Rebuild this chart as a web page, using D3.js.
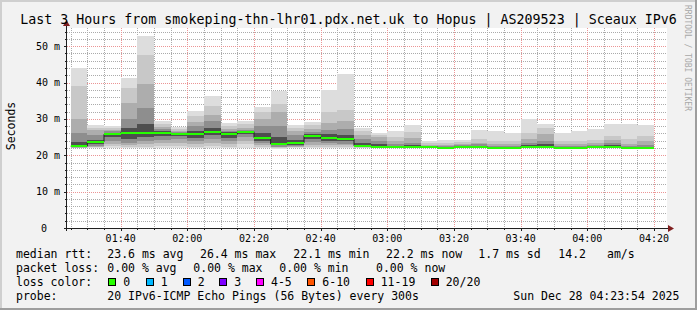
<!DOCTYPE html>
<html><head><meta charset="utf-8">
<script src="https://cdn.jsdelivr.net/npm/d3@7"></script>
<style>
html,body{margin:0;padding:0;background:#f2f2f2;overflow:hidden}
svg{display:block}
text{font-family:"DejaVu Sans Mono",monospace;white-space:pre}
</style></head>
<body><svg id="c" width="697" height="310"></svg>
<script>
// ---- data (values in milliseconds) ----
const barEnd = ["01:30","01:35","01:40","01:45","01:50","01:55","02:00","02:05","02:10","02:15","02:20","02:25",
  "02:30","02:35","02:40","02:45","02:50","02:55","03:00","03:05","03:10","03:15","03:20","03:25","03:30","03:35",
  "03:40","03:45","03:50","03:55","04:00","04:05","04:10","04:15","04:20"];
const hi1 = [43.9,28.3,28.1,41.3,52.8,29.5,27.8,32.2,36.2,28.9,29.4,33.3,37.7,28.4,29.2,37.9,42.3,27.5,26.2,26.6,28.4,24.0,24.2,24.2,26.9,26.6,26.2,29.9,28.5,26.1,26.7,27.2,28.5,28.5,28.3];
const hi2 = [39.0,27.6,27.5,38.4,47.5,28.6,27.2,30.8,33.5,28.0,28.5,31.9,34.0,27.5,28.2,32.0,32.4,26.6,25.6,25.0,26.5,23.4,23.5,23.6,24.5,24.0,24.0,26.0,27.5,24.0,24.0,24.3,25.3,24.5,25.2];
const hi3 = [30.1,27.0,27.0,34.4,39.7,27.8,26.8,29.2,31.0,27.3,27.6,30.1,32.0,26.7,27.2,29.0,29.5,25.6,25.0,23.8,24.8,22.9,22.9,23.0,23.5,23.0,23.0,24.5,25.8,23.0,23.0,23.3,24.3,23.0,23.8];
const hi4 = [26.0,25.5,26.6,30.1,33.0,27.2,26.4,28.0,29.5,26.8,27.0,28.0,28.0,25.5,26.5,27.0,27.2,24.5,24.0,23.0,23.5,22.6,22.5,22.7,23.0,22.6,22.6,23.3,24.0,22.6,22.6,22.8,23.3,22.5,22.9];
const hi5 = [23.7,24.3,26.2,27.5,28.5,26.7,26.1,26.7,27.5,26.3,26.8,26.0,25.0,24.3,25.9,25.8,25.5,23.5,23.0,22.6,22.8,22.4,22.2,22.5,22.6,22.3,22.3,22.8,23.0,22.3,22.3,22.5,22.7,22.2,22.4];
const median = [22.5,23.7,25.8,26.2,26.2,26.2,25.8,25.8,26.5,25.8,26.5,24.8,23.1,23.4,25.4,24.8,24.5,22.6,22.3,22.3,22.3,22.3,22.0,22.3,22.3,22.0,22.0,22.3,22.3,22.0,22.0,22.3,22.3,22.0,22.0];
const lo5 = [22.3,23.0,25.0,24.5,25.0,25.3,25.2,24.8,25.5,24.8,25.8,24.0,22.7,22.9,24.5,24.0,23.8,22.4,22.2,22.2,22.2,22.2,21.9,22.2,22.2,21.9,21.9,22.2,22.2,21.9,21.9,22.2,22.2,21.9,21.9];
const lo4 = [22.2,22.6,24.0,23.5,24.0,24.3,24.4,23.8,24.5,23.8,25.0,23.3,22.4,22.6,23.6,23.3,23.2,22.3,22.1,22.1,22.1,22.1,21.9,22.1,22.1,21.9,21.9,22.1,22.1,21.9,21.9,22.1,22.1,21.9,21.9];
const lo3 = [22.1,22.4,23.2,22.8,23.0,23.3,23.5,23.0,23.5,23.0,24.0,22.8,22.2,22.4,22.9,22.7,22.7,22.2,22.1,22.0,22.0,22.1,21.8,22.0,22.0,21.8,21.8,22.0,22.0,21.8,21.8,22.0,22.0,21.8,21.8];
const lo2 = [22.0,22.2,22.5,22.3,22.4,22.5,22.6,22.4,22.6,22.4,23.0,22.3,22.0,22.2,22.4,22.3,22.3,22.1,22.0,22.0,22.0,22.0,21.8,22.0,22.0,21.8,21.8,22.0,22.0,21.8,21.8,22.0,22.0,21.8,21.8];
const lo1 = [21.9,22.0,21.9,21.9,22.0,22.0,22.0,22.0,22.0,22.0,22.1,21.9,21.8,22.0,22.0,21.9,21.9,22.0,21.9,21.9,21.9,21.9,21.7,21.9,21.9,21.7,21.7,21.9,21.9,21.7,21.7,21.9,21.9,21.7,21.7];
const yTicksMajor = [0,10,20,30,40,50];
const yTicksMinor = [2,4,6,8,12,14,16,18,22,24,26,28,32,34,36,38,42,44,46,48,52,54];
const timeStart = "2025-12-28 01:23:54", timeEnd = "2025-12-28 04:23:54";
const titleText = "Last 3 Hours from smokeping-thn-lhr01.pdx.net.uk to Hopus | AS209523 | Sceaux IPv6";
const legendRows = [
  [["median rtt:",16],["23.6 ms avg",107.3],["26.4 ms max",200],["22.1 ms min",293.3],["22.2 ms now",386],["1.7 ms sd",478.3],["14.2",558.3],["am/s",607]],
  [["packet loss:",16],["0.00 % avg",107.3],["0.00 % max",193.3],["0.00 % min",279.3],["0.00 % now",376]],
  [["loss color:",16]],
  [["probe:",16],["20 IPv6-ICMP Echo Pings (56 Bytes) every 300s",107.3],["Sun Dec 28 04:23:54 2025",513.3]]
];
const lossLabels = ["0","1","2","3","4-5","6-10","11-19","20/20"];
const lossColors = ["#26ff00","#00b8ff","#0059ff","#7e00ff","#ff00ff","#ff5500","#ff0000","#a10000"];
const lossBoxX = [108.3,145.7,182.7,219.3,256,307.3,365.7,430.7];

// ---- drawing ----
const W=697,H=310, L=67, R=667, T=28, B=228;
const svg = d3.select("#c");
const pt = d3.timeParse("%Y-%m-%d %H:%M:%S");
const pe = d3.timeParse("%Y-%m-%d %H:%M");
const t0 = pt(timeStart), t1 = pt(timeEnd);
const x = d3.scaleTime().domain([t0,t1]).range([L,R]);
const y = d3.scaleLinear().domain([0,55]).range([B,T]);

svg.append("rect").attr("width",W).attr("height",H).attr("fill","#f2f2f2");
svg.append("path").attr("d",`M0,1H${W}M1,0V${H}`).attr("stroke","#cfcfcf").attr("stroke-width",2);
svg.append("path").attr("d",`M0,${H-1}H${W}M${W-1},0V${H}`).attr("stroke","#9e9e9e").attr("stroke-width",2);
svg.append("rect").attr("x",L).attr("y",T).attr("width",R-L).attr("height",B-T).attr("fill","#fff");

// grid: dotted lines drawn as rows of 1px dots
const gridG = svg.append("g").attr("shape-rendering","crispEdges");
const minorT = d3.timeMinute.every(5).range(t0, t1);
const majorT = d3.timeMinute.every(20).range(t0, t1);
const isMajorT = t => t.getMinutes()%20===0;
const minorOnly = minorT.filter(t=>!isMajorT(t));
const dotsY = d3.range(T, B, 2), dotsX = d3.range(L, R, 2);
function vDots(xx,col){ gridG.append("g").selectAll("rect").data(dotsY).enter().append("rect")
  .attr("x",xx).attr("y",d=>d).attr("width",1).attr("height",1).attr("fill",col); }
function hDots(yy,col){ gridG.append("g").selectAll("rect").data(dotsX).enter().append("rect")
  .attr("x",d=>d).attr("y",yy).attr("width",1).attr("height",1).attr("fill",col); }
minorOnly.forEach(t=> vDots(Math.round(x(t)),"#ababab"));
yTicksMinor.forEach(v=> hDots(Math.round(y(v)),"#ababab"));
majorT.forEach(t=> vDots(Math.round(x(t)),"#eb9595"));
yTicksMajor.filter(v=>v>0).forEach(v=> hDots(Math.round(y(v)),"#eb9595"));

// smoke
const bands = [[hi1,lo1,"#dddddd"],[hi2,lo2,"#c8c8c8"],[hi3,lo3,"#adadad"],[hi4,lo4,"#8e8e8e"],[hi5,lo5,"#4e4e4e"]];
const ends = barEnd.map(s=>pe("2025-12-28 "+s));
const bx0 = i => Math.max(L, x(d3.timeMinute.offset(ends[i],-5)));
const bx1 = i => x(ends[i]);
const sg = svg.append("g").attr("shape-rendering","crispEdges");
bands.forEach(([hi,lo,col])=>{
  sg.selectAll(null).data(ends).enter().append("rect")
    .attr("x",(d,i)=>bx0(i)).attr("width",(d,i)=>bx1(i)-bx0(i))
    .attr("y",(d,i)=>y(hi[i])).attr("height",(d,i)=>y(lo[i])-y(hi[i]))
    .attr("fill",col);
});
// median line (dark step) + green loss-colour band on top
const stepPts = [];
ends.forEach((d,i)=>{ stepPts.push([bx0(i),y(median[i])]); stepPts.push([bx1(i),y(median[i])]); });
svg.append("path").attr("d",d3.line()(stepPts)).attr("fill","none").attr("stroke","#202020").attr("stroke-width",1);
const mg = svg.append("g").attr("shape-rendering","crispEdges");
mg.selectAll(null).data(ends).enter().append("rect")
  .attr("x",(d,i)=>bx0(i)).attr("width",(d,i)=>bx1(i)-bx0(i))
  .attr("y",(d,i)=>Math.round(y(median[i]))-1).attr("height",2).attr("fill",lossColors[0]);

// axes
const ax = svg.append("g").attr("shape-rendering","crispEdges");
ax.append("line").attr("x1",L-3).attr("x2",R+4).attr("y1",B+0.5).attr("y2",B+0.5).attr("stroke","#1f1f1f");
ax.append("line").attr("x1",L-0.5).attr("x2",L-0.5).attr("y1",B+3).attr("y2",T-5).attr("stroke","#1f1f1f");
minorT.forEach(t=>{const xx=Math.round(x(t))+0.5; ax.append("line").attr("x1",xx).attr("x2",xx).attr("y1",B).attr("y2",B+(isMajorT(t)?3:2)).attr("stroke","#1f1f1f");});
yTicksMajor.concat(yTicksMinor).forEach(v=>{const yy=Math.round(y(v))+0.5; ax.append("line").attr("x1",L-(v%10===0?3:2)).attr("x2",L).attr("y1",yy).attr("y2",yy).attr("stroke","#1f1f1f");});
svg.append("path").attr("d",`M${R+1},${B-3}L${R+7},${B+0.5}L${R+1},${B+4}Z`).attr("fill","#801f1f");
svg.append("path").attr("d",`M${L-4},${T-2}L${L-0.5},${T-8}L${L+3},${T-2}Z`).attr("fill","#801f1f");

const fmtT = d3.timeFormat("%H:%M");
svg.selectAll(null).data(majorT).enter().append("text")
  .attr("x",d=>x(d)).attr("y",242).attr("text-anchor","middle").attr("font-size","10px").text(fmtT);
svg.selectAll(null).data(yTicksMajor).enter().append("text")
  .attr("x",d=>d===0?47:60).attr("y",d=>y(d)+3.5).attr("text-anchor","end").attr("font-size","10px")
  .text(d=>d===0?"0":d+" m");

svg.append("text").attr("transform","translate(15,126) rotate(-90)").attr("text-anchor","middle")
  .attr("font-size","11.5px").text("Seconds");
svg.append("text").attr("x",348.5).attr("y",24).attr("text-anchor","middle").attr("font-size","13.3px").text(titleText);
svg.append("text").attr("transform","translate(685,5) rotate(90)").attr("font-size","8px").attr("fill","#a8a8a8")
  .text("RRDTOOL / TOBI OETIKER");

// legend
const rowY = [258,272,286,300];
legendRows.forEach((row,r)=>row.forEach(([s,xx])=>{
  svg.append("text").attr("x",xx).attr("y",rowY[r]).attr("font-size","11.5px").text(s);
}));
lossLabels.forEach((lab,i)=>{
  svg.append("rect").attr("x",lossBoxX[i]+0.5).attr("y",278.5).attr("width",7).attr("height",7)
    .attr("fill",lossColors[i]).attr("stroke","#000").attr("shape-rendering","crispEdges");
  svg.append("text").attr("x",lossBoxX[i]+15).attr("y",rowY[2]).attr("font-size","11.5px").text(lab);
});
</script></body></html>
